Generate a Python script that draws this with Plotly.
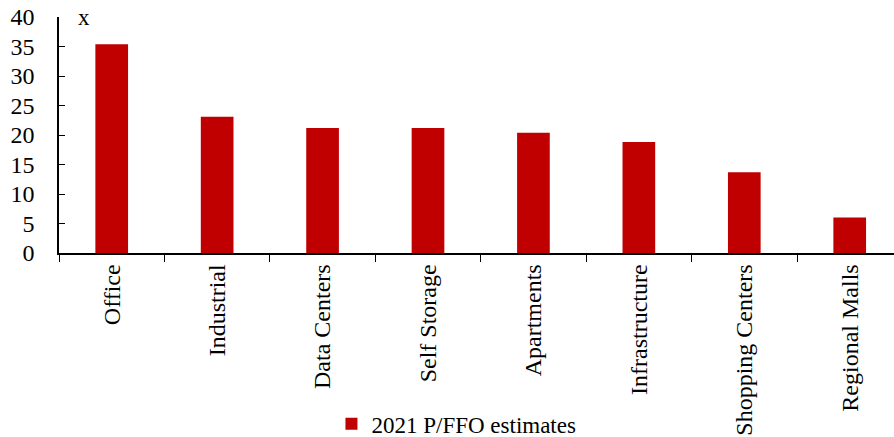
import plotly.graph_objects as go

categories = ["Office", "Industrial", "Data Centers", "Self Storage", "Apartments",
              "Infrastructure", "Shopping Centers", "Regional Malls"]
values = [35.4, 23.1, 21.2, 21.2, 20.4, 18.8, 13.7, 6.0]
series_name = "2021 P/FFO estimates"
y_ticks = [0, 5, 10, 15, 20, 25, 30, 35, 40]

font = "Liberation Serif, Times New Roman, serif"

fig = go.Figure()
fig.add_trace(go.Bar(x=categories, y=values, name=series_name,
                     marker=dict(color="#C00000", line=dict(width=0)),
                     showlegend=True))

fig.update_layout(
    width=894, height=437,
    margin=dict(l=59, r=0, t=17, b=184, autoexpand=False),
    paper_bgcolor="white", plot_bgcolor="white",
    font=dict(family=font, size=23, color="black"),
    bargap=0.69,
    showlegend=True,
    legend=dict(orientation="h", x=0.476, xanchor="center",
                yref="container", y=0.03, yanchor="middle",
                font=dict(family=font, size=23, color="black"),
                itemwidth=30, tracegroupgap=0),
    xaxis=dict(range=[-0.5, 7.42], tickangle=-90, showline=True, linecolor="black",
               linewidth=1.5, ticks="outside", tickson="boundaries", ticklen=7,
               tickcolor="black", showgrid=False, zeroline=False, automargin=False,
               tickfont=dict(family=font, size=24, color="black")),
    yaxis=dict(range=[0, 40], tickvals=y_ticks, showline=True, linecolor="black",
               linewidth=1.5, ticks="inside", ticklen=6, tickcolor="black",
               showgrid=False, zeroline=False, automargin=False,
               ticklabelstandoff=18,
               tickfont=dict(family=font, size=24, color="black")),
    annotations=[dict(text="x", xref="paper", yref="paper", x=0.02, y=1.0,
                      xanchor="left", yanchor="middle", showarrow=False,
                      font=dict(family=font, size=23, color="black"))],
)

fig.write_html("out.html")
